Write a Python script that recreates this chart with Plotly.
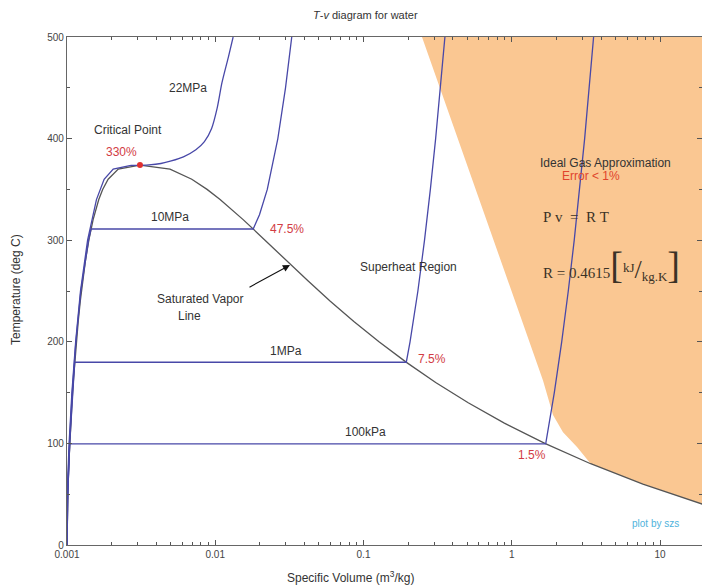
import math
import plotly.graph_objects as go

# ---------------- data ----------------
# saturation dome (steam tables)
sat_T = [0.01, 20, 40, 60, 80, 100, 120, 140, 160, 180, 200, 220, 240, 260, 280, 300, 320, 340, 350, 360, 370, 373.95]
sat_vf = [0.001000, 0.001002, 0.001008, 0.001017, 0.001029, 0.001043, 0.001060, 0.001080, 0.001102, 0.001127,
          0.001157, 0.001190, 0.001229, 0.001276, 0.001332, 0.001404, 0.001499, 0.001638, 0.001740, 0.001895,
          0.002217, 0.003106]
sat_vg = [206.0, 57.76, 19.52, 7.667, 3.405, 1.672, 0.8913, 0.5085, 0.3068, 0.1938, 0.1272, 0.08609, 0.05971,
          0.04218, 0.03000, 0.02166, 0.01549, 0.01078, 0.008806, 0.006945, 0.004953, 0.003106]

# isobars
p100k_T = [0.01, 50, 99.61, 99.61, 150, 200, 250, 300, 400, 500]
p100k_v = [0.001000, 0.001012, 0.001043, 1.6941, 1.9367, 2.1724, 2.4062, 2.6389, 3.1027, 3.5655]

p1M_T = [0.01, 50, 100, 150, 179.88, 179.88, 200, 250, 300, 350, 400, 500]
p1M_v = [0.001000, 0.001012, 0.001043, 0.001090, 0.001127, 0.19436, 0.20602, 0.23275, 0.25799, 0.28250, 0.30661, 0.35411]

p10M_T = [0.01, 50, 100, 150, 200, 250, 300, 311.0, 311.0, 325, 350, 400, 450, 500]
p10M_v = [0.000995, 0.001007, 0.001039, 0.001085, 0.001148, 0.001240, 0.001398, 0.001452, 0.018028, 0.019877,
          0.022440, 0.026436, 0.029782, 0.032811]

p22M_liq_T = [0.01, 50, 100, 150, 200, 250, 300, 340, 360, 370, 373.7]
p22M_liq_v = [0.000990, 0.001003, 0.001033, 0.001079, 0.001144, 0.001233, 0.001377, 0.001580, 0.001780, 0.002050, 0.00270]
p22M_vap_T = [373.7, 374.2, 375.5, 378, 382, 389, 397, 410, 430, 455, 480, 500]
p22M_vap_v = [0.00270, 0.00357, 0.00430, 0.00505, 0.00610, 0.00740, 0.00845, 0.00945, 0.01030, 0.01110, 0.01225, 0.01320]

# ideal-gas (error < 1%) region boundary
ig_v = [0.248, 1.625, 1.898, 2.217, 2.755, 3.405, 7.667, 19.52, 57.76, 57.76]
ig_T = [500, 162, 128, 111, 96.5, 80, 60, 40, 20, 500]

crit_v = [0.003106]
crit_T = [373.95]

xtick_vals = [0.001, 0.01, 0.1, 1, 10]
xtick_text = ["0.001", "0.01", "0.1", "1", "10"]
ytick_vals = [0, 100, 200, 300, 400, 500]

# ---------------- layout helpers ----------------
W, H = 702, 588
L, R, T_, B = 67, 702, 37, 545
DEC = 148.25
def lx(px):
    return -3 + (px - L) / DEC
def ty(py):
    return (B - py) / ((B - T_) / 500.0)
def pxp(px):
    return (px - L) / (R - L)
def pyp(py):
    return (B - py) / (B - T_)

BLUE = "#4848a8"
GRAY = "#555555"
FONT = "Liberation Sans, Arial, sans-serif"
SERIF = "Liberation Serif, Times New Roman, serif"
RED = "#d23c44"
EQC = "#3a3226"

fig = go.Figure()
fig.add_trace(go.Scatter(x=ig_v, y=ig_T, mode="lines", fill="toself", fillcolor="#fac792",
                         line=dict(width=0, color="#fac792"), hoverinfo="skip"))
fig.add_trace(go.Scatter(x=sat_vf + sat_vg[::-1], y=sat_T + sat_T[::-1], mode="lines",
                         line=dict(color=GRAY, width=1.3)))
for v, t in [(p100k_v, p100k_T), (p1M_v, p1M_T), (p10M_v, p10M_T), (p22M_liq_v, p22M_liq_T)]:
    fig.add_trace(go.Scatter(x=v, y=t, mode="lines", line=dict(color=BLUE, width=1.3)))
fig.add_trace(go.Scatter(x=p22M_vap_v, y=p22M_vap_T, mode="lines",
                         line=dict(color=BLUE, width=1.3, shape="spline", smoothing=0.7)))
fig.add_trace(go.Scatter(x=crit_v, y=crit_T, mode="markers",
                         marker=dict(color="#e03030", size=6)))
# invisible trace on top axis so the mirrored minor ticks exist
fig.add_trace(go.Scatter(x=crit_v, y=crit_T, mode="markers", marker=dict(opacity=0),
                         xaxis="x2", yaxis="y", hoverinfo="skip"))

anns = []
def txt(s, px, py, color="#333333", size=12, font=FONT, **kw):
    anns.append(dict(text=s, x=lx(px), y=ty(py), xref="x", yref="y", showarrow=False,
                     xanchor=kw.pop("xanchor", "center"), yanchor="middle",
                     font=dict(family=font, size=size, color=color), **kw))

txt("22MPa", 188, 88)
txt("Critical Point", 128, 130)
txt("330%", 121, 152, RED)
txt("10MPa", 170, 217)
txt("47.5%", 287, 229, RED)
txt("Saturated Vapor", 200, 299)
txt("Line", 189, 316)
txt("1MPa", 286, 351)
txt("7.5%", 432, 359, RED)
txt("Superheat Region", 408, 267)
txt("Ideal Gas Approximation", 605, 163)
txt("Error &lt; 1%", 591, 176, "#e0442c")
txt("P&nbsp;v&nbsp;&nbsp;=&nbsp;&nbsp;R&nbsp;T", 541, 217, EQC, 15, SERIF, xanchor="left")
txt("R&nbsp;=&nbsp;0.4615<span style='font-size:38px'>[</span>"
    "<sup><span style='font-size:13px'>kJ</span></sup>"
    "<span style='font-size:26px'>/</span>"
    "<sub><span style='font-size:13px'>kg.K</span></sub>"
    "<span style='font-size:38px'>]</span>",
    541, 265, EQC, 15, SERIF, xanchor="left")
txt("100kPa", 365, 432)
txt("1.5%", 532, 455, RED)
txt("plot by szs", 655, 523, "#4fb3dc", 10)

# arrow to saturated vapor line
anns.append(dict(text="", x=lx(290), y=ty(265), xref="x", yref="y", ax=-42, ay=23,
                 showarrow=True, arrowhead=2, arrowsize=1.3, arrowwidth=1.1, arrowcolor="#111111"))

# title and axis titles
def ptxt(s, px, py, size, **kw):
    anns.append(dict(text=s, x=pxp(px), y=pyp(py), xref="paper", yref="paper", showarrow=False,
                     xanchor="center", yanchor="middle",
                     font=dict(family=FONT, size=size, color="#333333"), **kw))

ptxt("<i>T</i>-<i>v</i> diagram for water", 365, 15, 11)
ptxt("Specific Volume (m<sup>3</sup>/kg)", 350, 577, 12)
ptxt("Temperature (deg C)", 16, 290, 12, textangle=-90)

fig.update_layout(
    width=W, height=H,
    margin=dict(l=L, r=W - R, t=T_, b=H - B, pad=0),
    paper_bgcolor="white", plot_bgcolor="white",
    showlegend=False,
    annotations=anns,
    font=dict(family=FONT, size=10, color="#444444"),
)
xcommon = dict(type="log", range=[-3, lx(R)], tickvals=xtick_vals,
               ticks="inside", ticklen=5, tickcolor="#555555", showgrid=False, zeroline=False,
               minor=dict(ticks="inside", ticklen=3, dtick="D1", tickcolor="#555555", showgrid=False))
fig.update_layout(
    xaxis=dict(**xcommon, ticktext=xtick_text, showline=True, linecolor="#666666", linewidth=1.2,
               mirror=True, tickfont=dict(size=10, color="#444444")),
    xaxis2=dict(**xcommon, overlaying="x", side="top", showticklabels=False, showline=False),
)
fig.update_yaxes(range=[0, 500], tickvals=ytick_vals, ticks="inside", ticklen=5, tickcolor="#555555",
                 showline=True, linecolor="#666666", linewidth=1.2, mirror="ticks", showgrid=False,
                 zeroline=False, minor=dict(ticks="inside", ticklen=3, dtick=50, tickcolor="#555555", showgrid=False),
                 tickfont=dict(size=10, color="#444444"))

fig.write_html("out.html", config={"displayModeBar": False},
               post_script="document.body.style.margin='0';document.body.style.overflow='hidden';")
